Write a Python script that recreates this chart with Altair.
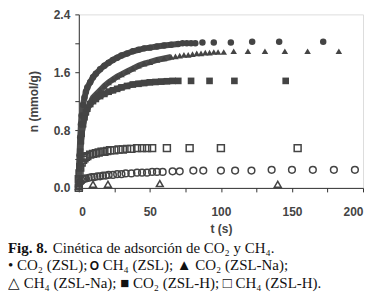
import altair as alt
import pandas as pd

# ---------------- data ----------------
# CO2 (ZSL) - filled circles
co2_zsl_t_dense = [0, 0.5, 1, 1.5, 2, 3, 4, 5, 6, 8, 10, 12, 15, 18, 21, 24, 27, 30, 34, 38, 42, 46, 50, 55, 60, 65, 70]
co2_zsl_n_dense = [0.05, 0.45, 0.7, 0.88, 1.0, 1.15, 1.25, 1.33, 1.39, 1.46, 1.53, 1.58, 1.64, 1.69, 1.73, 1.77, 1.8, 1.83, 1.86, 1.89, 1.91, 1.93, 1.94, 1.955, 1.97, 1.98, 1.99]
co2_zsl_t_sparse = [73, 76, 79, 82, 87, 95, 107, 122, 141, 172]
co2_zsl_n_sparse = [2.0, 2.0, 2.0, 2.0, 2.01, 2.01, 2.01, 2.02, 2.02, 2.02]

# CO2 (ZSL-Na) - filled triangles
co2_na_t_dense = [0, 0.5, 1, 1.5, 2, 3, 4, 5, 6, 8, 10, 12, 15, 18, 21, 24, 27, 30, 34, 38, 42, 46, 50, 55, 60, 65]
co2_na_n_dense = [0.05, 0.3, 0.5, 0.64, 0.74, 0.88, 0.97, 1.04, 1.09, 1.17, 1.25, 1.29, 1.35, 1.41, 1.46, 1.5, 1.54, 1.57, 1.61, 1.65, 1.69, 1.72, 1.74, 1.77, 1.79, 1.81]
co2_na_t_sparse = [68, 71, 74, 77, 80, 83, 86, 89, 92, 95, 98, 102, 109, 119, 131, 145, 161, 183]
co2_na_n_sparse = [1.82, 1.83, 1.84, 1.84, 1.85, 1.86, 1.86, 1.87, 1.87, 1.88, 1.88, 1.88, 1.89, 1.89, 1.89, 1.89, 1.89, 1.89]

# CO2 (ZSL-H) - filled squares
co2_h_t_dense = [0, 0.5, 1, 1.5, 2, 3, 4, 5, 6, 8, 10, 12, 15, 18, 21, 24, 27, 30, 34, 38, 42, 46, 50, 54, 58, 62, 66]
co2_h_n_dense = [0.05, 0.3, 0.5, 0.65, 0.75, 0.88, 0.98, 1.05, 1.1, 1.16, 1.2, 1.23, 1.27, 1.3, 1.33, 1.35, 1.37, 1.39, 1.41, 1.43, 1.44, 1.45, 1.46, 1.465, 1.47, 1.475, 1.48]
co2_h_t_sparse = [70, 79, 92, 109.5, 145.6]
co2_h_n_sparse = [1.48, 1.48, 1.48, 1.48, 1.48]

# CH4 (ZSL-H) - open squares
ch4_h_t = [0, 0, 0.5, 1, 2, 3, 4, 5, 6, 8, 10, 12, 14, 16, 18, 20, 22, 25, 28, 31, 34, 37, 41, 44.5, 48, 51.6, 62, 78, 100, 154]
ch4_h_n = [0.0, 0.12, 0.2, 0.28, 0.35, 0.39, 0.41, 0.43, 0.44, 0.46, 0.47, 0.48, 0.49, 0.5, 0.5, 0.51, 0.52, 0.52, 0.53, 0.53, 0.54, 0.54, 0.55, 0.55, 0.55, 0.55, 0.55, 0.55, 0.55, 0.55]

# CH4 (ZSL) - open circles
ch4_zsl_t = [0, 1, 2, 3, 4, 5, 7, 9, 11, 13, 15, 17, 19, 21, 24, 27, 30, 33, 37, 41, 44.5, 48, 51.6, 55, 59, 66, 71, 80.6, 87.6, 100, 110, 121.5, 135.7, 150, 164.7, 179.5, 194.3]
ch4_zsl_n = [0.02, 0.08, 0.1, 0.12, 0.13, 0.13, 0.14, 0.15, 0.15, 0.16, 0.16, 0.17, 0.17, 0.18, 0.18, 0.19, 0.19, 0.2, 0.2, 0.21, 0.21, 0.21, 0.22, 0.22, 0.22, 0.23, 0.23, 0.24, 0.24, 0.24, 0.24, 0.24, 0.25, 0.25, 0.25, 0.25, 0.25]

# CH4 (ZSL-Na) - open triangles
ch4_na_t = [0, 10, 20.5, 57, 140]
ch4_na_n = [0.02, 0.05, 0.05, 0.06, 0.05]

# axis ticks
x_ticks = [0, 25, 50, 75, 100, 125, 150, 175, 200]
y_ticks = [0.0, 0.4, 0.8, 1.2, 1.6, 2.0, 2.4]

caption_bold = "Fig. 8."
caption_1 = "Cinética de adsorción de CO₂ y CH₄."
caption_2a = "• CO₂ (ZSL);"
caption_2o = "O"
caption_2b = "CH₄ (ZSL); ▲ CO₂ (ZSL-Na);"
caption_3 = "△ CH₄ (ZSL-Na); ■ CO₂ (ZSL-H); □ CH₄ (ZSL-H)."

# ---------------- tables ----------------
def rows(name, ts, ns, dense):
    return [{"serie": name, "t": t, "n": n, "dense": dense} for t, n in zip(ts, ns)]

filled_rows = (rows("CO2 (ZSL)", co2_zsl_t_dense, co2_zsl_n_dense, True)
               + rows("CO2 (ZSL)", co2_zsl_t_sparse, co2_zsl_n_sparse, False)
               + rows("CO2 (ZSL-Na)", co2_na_t_dense, co2_na_n_dense, True)
               + rows("CO2 (ZSL-Na)", co2_na_t_sparse, co2_na_n_sparse, False)
               + rows("CO2 (ZSL-H)", co2_h_t_dense, co2_h_n_dense, True)
               + rows("CO2 (ZSL-H)", co2_h_t_sparse, co2_h_n_sparse, False))
open_rows = (rows("CH4 (ZSL-H)", ch4_h_t, ch4_h_n, False)
             + rows("CH4 (ZSL)", ch4_zsl_t, ch4_zsl_n, False)
             + rows("CH4 (ZSL-Na)", ch4_na_t, ch4_na_n, False))

df_filled = pd.DataFrame(filled_rows)
df_open = pd.DataFrame(open_rows)
df_dense = df_filled[df_filled["dense"]]

INK = "#444444"
SANS = "Liberation Sans"
SERIF = "Liberation Serif"

series_domain = ["CO2 (ZSL)", "CO2 (ZSL-Na)", "CO2 (ZSL-H)", "CH4 (ZSL)", "CH4 (ZSL-Na)", "CH4 (ZSL-H)"]
shape_scale = alt.Scale(domain=series_domain,
                        range=["circle", "triangle-up", "square", "circle", "triangle-up", "square"])
size_scale = alt.Scale(domain=series_domain, range=[42, 48, 38, 30, 40, 32])

x_enc = alt.X("t:Q", scale=alt.Scale(domain=[0, 200], nice=False),
              axis=alt.Axis(values=x_ticks, title="t (s)",
                            labelExpr="datum.value % 50 == 0 ? datum.label : ''",
                            grid=False, tickSize=4, labelPadding=15, titlePadding=6,
                            labelFont=SANS, labelFontWeight="bold", labelFontSize=12, labelColor=INK,
                            titleFont=SANS, titleFontWeight="bold", titleFontSize=12, titleColor=INK,
                            domainColor="#333", tickColor="#333"))
y_enc = alt.Y("n:Q", scale=alt.Scale(domain=[0, 2.4], nice=False),
              axis=alt.Axis(values=y_ticks, title="n (mmol/g)", format=".1f",
                            labelExpr="(round(datum.value*10) % 8 == 0) ? datum.label : ''",
                            grid=False, tickSize=4, labelPadding=5, titlePadding=13,
                            labelFont=SANS, labelFontWeight="bold", labelFontSize=12, labelColor=INK,
                            titleFont=SANS, titleFontWeight="bold", titleFontSize=12, titleColor=INK,
                            domainColor="#333", tickColor="#333"))

band = alt.Chart(df_dense).mark_line(strokeWidth=6, color="#4d4d4d", clip=False).encode(
    x=x_enc, y=y_enc, detail="serie:N", order="t:Q")

filled = alt.Chart(df_filled).mark_point(filled=True, opacity=1, color=INK, clip=False).encode(
    x=x_enc, y=y_enc,
    shape=alt.Shape("serie:N", scale=shape_scale, legend=None),
    size=alt.Size("serie:N", scale=size_scale, legend=None))

opened = alt.Chart(df_open).mark_point(filled=False, opacity=1, strokeWidth=1.5, color=INK, clip=False).encode(
    x=x_enc, y=y_enc,
    shape=alt.Shape("serie:N", scale=shape_scale, legend=None),
    size=alt.Size("serie:N", scale=size_scale, legend=None))

one = pd.DataFrame({"k": [0]})
def cap(txt, xv, yv, bold=False, font=SERIF, size=15):
    return alt.Chart(one).mark_text(text=txt, align="left", baseline="alphabetic", font=font,
                                    fontSize=size, fontWeight="bold" if bold else "normal",
                                    color="#111").encode(x=alt.value(xv), y=alt.value(yv))

captions = (cap(caption_bold, -71, 239, True) + cap(caption_1, -26, 239)
            + cap(caption_2a, -71, 256.5) + cap(caption_2o, 11, 256.5, True, SANS, 12)
            + cap(caption_2b, 24, 256.5)
            + cap(caption_3, -71, 274))

chart = alt.layer(band, filled, opened, captions).properties(
    width=285, height=174,
    autosize=alt.AutoSizeParams(type="none"),
    padding={"left": 71, "top": 6, "right": 2, "bottom": 104},
).configure_view(stroke="#333", strokeWidth=1).configure(background="white")

chart.save("out.html", embed_options={"renderer": "svg", "actions": False})
